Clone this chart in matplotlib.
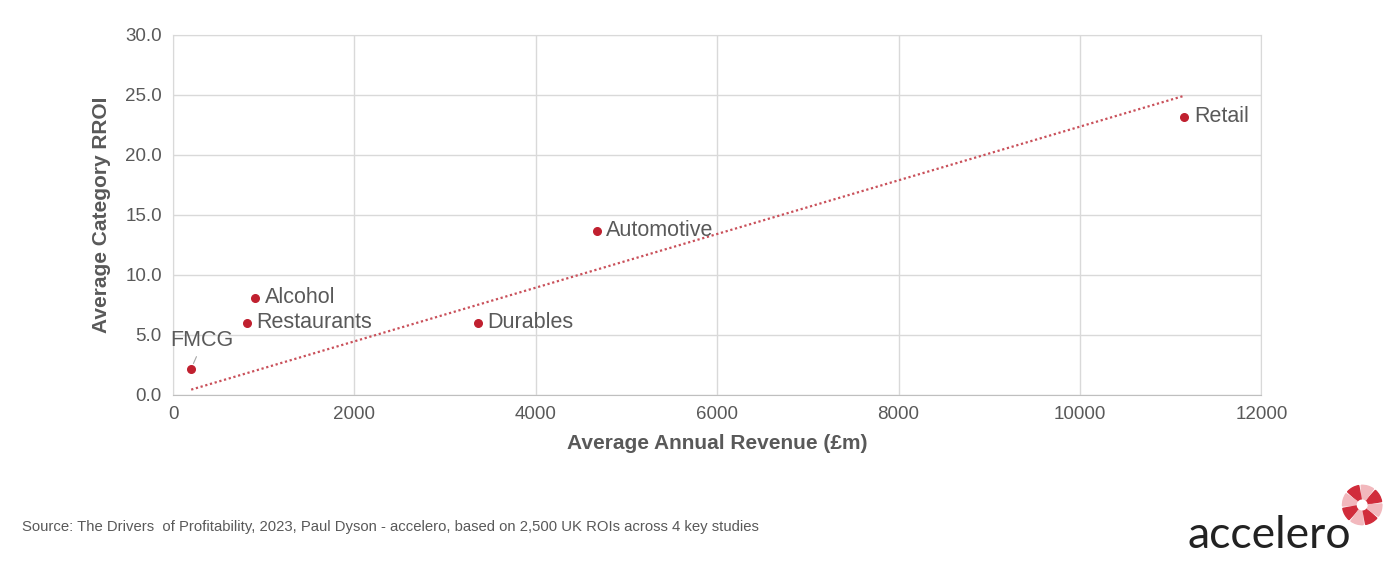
import matplotlib
matplotlib.use("Agg")
import matplotlib.pyplot as plt
from matplotlib.patches import Wedge
import numpy as np

plt.rcParams['font.family'] = ['Liberation Sans', 'DejaVu Sans']

# data
categories = ["FMCG", "Restaurants", "Alcohol", "Durables", "Automotive", "Retail"]
revenue = [200, 815, 905, 3360, 4670, 11150]
rroi = [2.2, 6.0, 8.1, 6.0, 13.7, 23.2]

x_ticks = [0, 2000, 4000, 6000, 8000, 10000, 12000]
y_ticks = [0, 5, 10, 15, 20, 25, 30]

grey = "#595959"
grid = "#d9d9d9"
dot = "#c0202f"

fig = plt.figure(figsize=(14, 5.69), dpi=100)
ax = fig.add_axes([0.1236, 0.3058, 0.7774, 0.6327])

ax.scatter(revenue, rroi, s=30, color=dot, zorder=3)

# linear trendline with intercept fixed at 0 (excel style)
xs = np.array(revenue, dtype=float)
ys = np.array(rroi, dtype=float)
slope = np.sum(xs * ys) / np.sum(xs * xs)
xl = np.array([xs.min(), xs.max()])
ax.plot(xl, slope * xl, linestyle=(0, (1, 1.2)), color="#c9505a", lw=1.6, zorder=2)

# point labels
for name, xv, yv in zip(categories, revenue, rroi):
    if name == "FMCG":
        ax.annotate(name, xy=(xv, yv), xytext=(-15, 20), textcoords="offset points",
                    fontsize=15.5, color=grey, ha="left", va="center",
                    arrowprops=dict(arrowstyle="-", color="#a6a6a6", lw=0.8,
                                    relpos=(0.45, 0), shrinkA=2, shrinkB=4))
    else:
        ax.annotate(name, xy=(xv, yv), xytext=(7, 0), textcoords="offset points",
                    fontsize=15.5, color=grey, ha="left", va="center")

ax.set_xlim(0, 12000)
ax.set_ylim(0, 30)
ax.set_xticks(x_ticks)
ax.set_yticks(y_ticks)
ax.set_yticklabels([f"{v:.1f}" for v in y_ticks])
ax.tick_params(length=0, labelsize=13.5, labelcolor=grey, pad=8)
ax.grid(True, color=grid, lw=1)
ax.set_axisbelow(True)
for side in ["top", "right", "left"]:
    ax.spines[side].set_color(grid)
ax.spines["bottom"].set_color("#bfbfbf")

ax.set_xlabel("Average Annual Revenue (£m)", fontsize=15, fontweight="bold",
              color=grey, labelpad=8)
ax.set_ylabel("Average Category RROI", fontsize=15, fontweight="bold",
              color=grey, labelpad=10)

fig.text(0.0157, 0.073, "Source: The Drivers  of Profitability, 2023, Paul Dyson - accelero, "
         "based on 2,500 UK ROIs across 4 key studies",
         fontsize=10.7, color=grey, va="center")

# logo
fig.text(0.848, 0.058, "accelero", fontsize=32, color="#222222",
         family=["Lato", "DejaVu Sans"], va="center")
logo = fig.add_axes([0.953, 0.0625, 0.04, 0.1])
logo.set_xlim(-1.35, 1.35)
logo.set_ylim(-1.35, 1.35)
logo.set_aspect("equal")
logo.axis("off")
for k in range(8):
    a0 = k * 45 + 10
    c = "#d12c3b" if k % 2 == 0 else "#f2b8bd"
    logo.add_patch(Wedge((0, 0), 0.95, a0, a0 + 38, width=0.65, color=c))

fig.savefig("out.png", dpi=100)
